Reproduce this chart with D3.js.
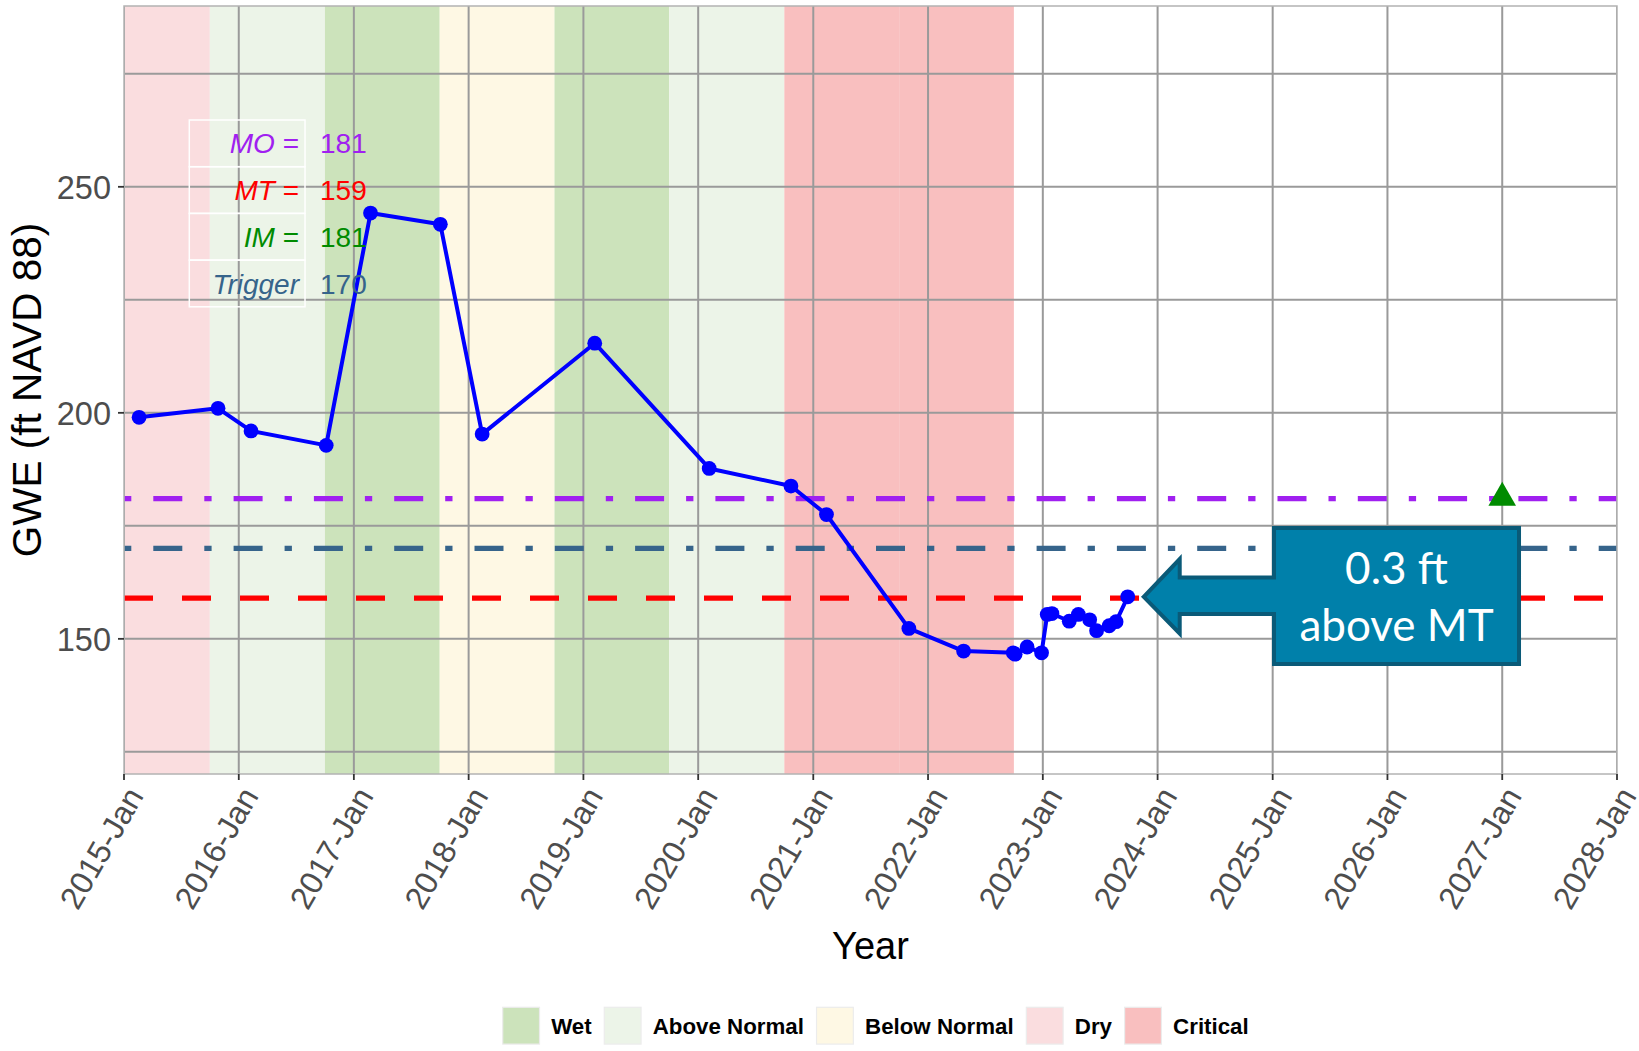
<!DOCTYPE html>
<html><head><meta charset="utf-8">
<script src="https://cdn.jsdelivr.net/npm/d3@7"></script>
<style>body{margin:0;background:#fff} svg{display:block}</style>
</head><body>
<svg id="c" width="1639" height="1051"></svg>
<script>
// ---- data ----
const obsDates = ["2015-02-18","2015-10-27","2016-02-09","2016-10-05","2017-02-23","2017-10-03","2018-02-13","2019-02-06","2020-02-05","2020-10-22","2021-02-12","2021-11-01","2022-04-24","2022-09-29","2022-10-05","2022-11-12","2022-12-28","2023-01-15","2023-01-30","2023-03-26","2023-04-24","2023-05-30","2023-06-21","2023-07-31","2023-08-22","2023-09-28"];
const obsGWE = [199.0,201.0,196.0,192.8,244.2,241.7,195.3,215.4,187.7,183.8,177.5,152.3,147.3,146.9,146.6,148.2,146.9,155.4,155.6,153.9,155.4,154.2,151.8,152.9,153.8,159.3];

const bandStart = ["2014-10-01","2015-10-01","2016-10-01","2017-10-01","2018-10-01","2019-10-01","2020-10-01","2021-10-01"];
const bandEnd   = ["2015-10-01","2016-10-01","2017-10-01","2018-10-01","2019-10-01","2020-10-01","2021-10-01","2022-10-01"];
const bandType  = ["Dry","Above Normal","Wet","Below Normal","Wet","Above Normal","Critical","Critical"];

const yearTypes = ["Wet","Above Normal","Below Normal","Dry","Critical"];
const yearTypeColors = ["#cce3bb","#ecf4e8","#fef8e4","#fadddf","#f9bfbf"];

const thrNames  = ["MO","MT","IM","Trigger"];
const thrValues = [181,159,181,170];
const thrColors = ["#a020f0","#ff0000","#008b00","#36648b"];

const xTickYears = [2015,2016,2017,2018,2019,2020,2021,2022,2023,2024,2025,2026,2027,2028];
const yMajor = [150,200,250];
const yMinor = [125,175,225,275];

const imDate = "2027-01-01";
const calloutText = ["0.3 ft","above MT"];

// ---- layout ----
const svg = d3.select("#c");
const P = {l:124, r:1617, t:6, b:774};
const parse = d3.utcParse("%Y-%m-%d");
const x = d3.scaleUtc().domain([Date.UTC(2015,0,1), Date.UTC(2028,0,1)]).range([P.l, P.r]);
const y = d3.scaleLinear().domain([120.1, 290]).range([P.b, P.t]);
const color = d3.scaleOrdinal().domain(yearTypes).range(yearTypeColors);
const FONT = "'Liberation Sans', Arial, sans-serif";

svg.append("defs").append("clipPath").attr("id","clip")
  .append("rect").attr("x",P.l).attr("y",P.t).attr("width",P.r-P.l).attr("height",P.b-P.t);

const panel = svg.append("g").attr("clip-path","url(#clip)");

// bands
panel.selectAll("rect.band").data(bandType).join("rect")
  .attr("x",(d,i)=>x(parse(bandStart[i])))
  .attr("width",(d,i)=>x(parse(bandEnd[i]))-x(parse(bandStart[i])))
  .attr("y",P.t).attr("height",P.b-P.t)
  .attr("fill",d=>color(d));

// grid
const gridC = "#9a9a9a";
panel.selectAll("line.hg").data(yMajor.concat(yMinor)).join("line")
  .attr("x1",P.l).attr("x2",P.r).attr("y1",d=>y(d)).attr("y2",d=>y(d))
  .attr("stroke",gridC).attr("stroke-width",2);
panel.selectAll("line.vg").data(xTickYears).join("line")
  .attr("x1",d=>x(Date.UTC(d,0,1))).attr("x2",d=>x(Date.UTC(d,0,1)))
  .attr("y1",P.t).attr("y2",P.b)
  .attr("stroke",gridC).attr("stroke-width",2);

// threshold lines (MO, Trigger, MT)
const dashes = {"MO":"7.3 22 29 22","Trigger":"7.3 22 29 22","MT":"29 29"};
["MO","Trigger","MT"].forEach(n=>{
  const i = thrNames.indexOf(n);
  panel.append("line")
    .attr("x1",P.l).attr("x2",P.r).attr("y1",y(thrValues[i])).attr("y2",y(thrValues[i]))
    .attr("stroke",thrColors[i]).attr("stroke-width",5.3)
    .attr("stroke-dasharray",dashes[n]);
});

// data line
const pts = obsDates.map((d,i)=>({d:parse(d), v:obsGWE[i]}));
panel.append("path").datum(pts)
  .attr("d", d3.line().x(p=>x(p.d)).y(p=>y(p.v)))
  .attr("fill","none").attr("stroke","#0000ff").attr("stroke-width",4).attr("stroke-linejoin","round");
panel.selectAll("circle.pt").data(pts).join("circle")
  .attr("cx",p=>x(p.d)).attr("cy",p=>y(p.v)).attr("r",7.4).attr("fill","#0000ff");

// IM triangle
const imIdx = thrNames.indexOf("IM");
panel.append("path")
  .attr("d", d3.symbol().type(d3.symbolTriangle).size(330)())
  .attr("transform",`translate(${x(parse(imDate))},${y(thrValues[imIdx])-1})`)
  .attr("fill",thrColors[imIdx]);

// panel border
svg.append("rect").attr("x",P.l).attr("y",P.t).attr("width",P.r-P.l).attr("height",P.b-P.t)
  .attr("fill","none").attr("stroke","#b3b3b3").attr("stroke-width",1.5);

// axes ticks
const tickC = "#333333";
svg.selectAll("line.yt").data(yMajor).join("line")
  .attr("x1",P.l-6).attr("x2",P.l).attr("y1",d=>y(d)).attr("y2",d=>y(d))
  .attr("stroke",tickC).attr("stroke-width",1.8);
svg.selectAll("text.yl").data(yMajor).join("text")
  .attr("x",P.l-13).attr("y",d=>y(d)).attr("dy","0.36em")
  .attr("text-anchor","end").attr("font-family",FONT).attr("font-size",32.5).attr("fill","#4d4d4d")
  .text(d=>d);
svg.selectAll("line.xt").data(xTickYears).join("line")
  .attr("x1",d=>x(Date.UTC(d,0,1))).attr("x2",d=>x(Date.UTC(d,0,1)))
  .attr("y1",P.b).attr("y2",P.b+6)
  .attr("stroke",tickC).attr("stroke-width",1.8);
const fmt = d3.utcFormat("%Y-%b");
svg.selectAll("text.xl").data(xTickYears).join("text")
  .attr("transform",d=>`translate(${x(Date.UTC(d,0,1))},${P.b+10}) rotate(-60)`)
  .attr("dy","0.74em")
  .attr("text-anchor","end").attr("font-family",FONT).attr("font-size",32).attr("fill","#4d4d4d")
  .text(d=>fmt(new Date(Date.UTC(d,0,1))));

// axis titles
svg.append("text").attr("x",(P.l+P.r)/2).attr("y",959)
  .attr("text-anchor","middle").attr("font-family",FONT).attr("font-size",38).attr("fill","#000")
  .text("Year");
svg.append("text").attr("transform",`translate(41,${(P.t+P.b)/2}) rotate(-90)`)
  .attr("text-anchor","middle").attr("font-family",FONT).attr("font-size",40.5).attr("fill","#000")
  .text("GWE (ft NAVD 88)");

// threshold table (top-left)
const tbl = svg.append("g");
const rowH = 46.7, tTop = 120, cL = 189.3, cR = 305, vX = 320;
thrNames.forEach((n,i)=>{
  const top = tTop + i*rowH;
  tbl.append("rect").attr("x",cL).attr("y",top).attr("width",cR-cL).attr("height",rowH)
    .attr("fill","none").attr("stroke","#ffffff").attr("stroke-width",1.5);
  const t = tbl.append("text").attr("x",cR-6).attr("y",top+rowH/2).attr("dy","0.36em")
    .attr("text-anchor","end").attr("font-family",FONT).attr("font-size",28).attr("fill",thrColors[i]);
  t.append("tspan").attr("font-style","italic").text(n);
  if (n!=="Trigger") t.append("tspan").text(" =");
  tbl.append("text").attr("x",vX).attr("y",top+rowH/2).attr("dy","0.36em")
    .attr("font-family",FONT).attr("font-size",28).attr("fill",thrColors[i])
    .text(thrValues[i]);
});

// callout arrow
const last = pts[pts.length-1];
const tx = x(last.d)+16, ty = y(last.v);
const hx = tx+36, bx = tx+130.3, rx = tx+375.3;
const cp = d3.path();
cp.moveTo(tx,ty); cp.lineTo(hx,ty-37.7); cp.lineTo(hx,ty-19.3); cp.lineTo(bx,ty-19.3);
cp.lineTo(bx,ty-68.7); cp.lineTo(rx,ty-68.7); cp.lineTo(rx,ty+67.3); cp.lineTo(bx,ty+67.3);
cp.lineTo(bx,ty+17.3); cp.lineTo(hx,ty+17.3); cp.lineTo(hx,ty+36.7); cp.closePath();
svg.append("path").attr("d",cp.toString()).attr("fill","#0080aa")
  .attr("stroke","#0a5a78").attr("stroke-width",4).attr("stroke-linejoin","miter");
svg.selectAll("text.co").data(calloutText).join("text")
  .attr("x",(bx+rx)/2).attr("y",(d,i)=>ty-12.7+i*56.7)
  .attr("text-anchor","middle").attr("font-family","Lato, 'Open Sans', sans-serif")
  .attr("font-size",44).attr("fill","#ffffff").text(d=>d);

// legend
const lg = svg.append("g");
let lx = 502.7; const ly = 1007.3, ks = 36.8;
yearTypes.forEach((t,i)=>{
  lg.append("rect").attr("x",lx).attr("y",ly).attr("width",ks).attr("height",ks)
    .attr("fill",yearTypeColors[i]).attr("stroke","#ececec").attr("stroke-width",1.2);
  const tt = lg.append("text").attr("x",lx+ks+11.7).attr("y",ly+ks/2).attr("dy","0.36em")
    .attr("font-family",FONT).attr("font-weight","bold").attr("font-size",22.3).attr("fill","#000").text(t);
  lx = lx+ks+11.7+tt.node().getComputedTextLength()+12.6;
});
</script>
</body></html>
